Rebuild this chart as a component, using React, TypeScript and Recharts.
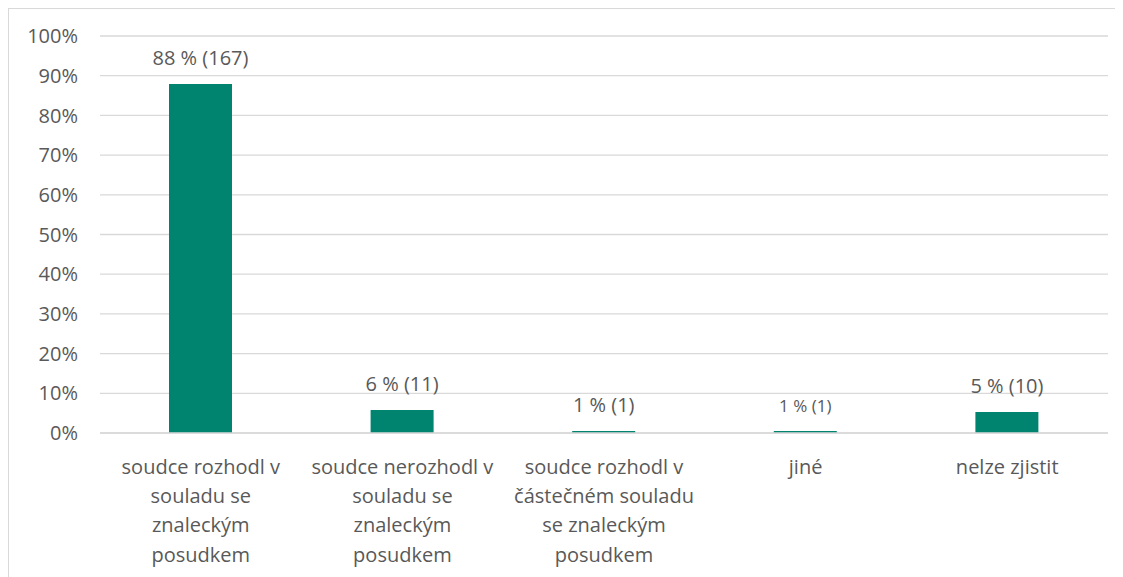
import React from "react";
import { BarChart, Bar, XAxis, YAxis, CartesianGrid, LabelList } from "recharts";

const categories = [
  "soudce rozhodl v souladu se znaleckým posudkem",
  "soudce nerozhodl v souladu se znaleckým posudkem",
  "soudce rozhodl v částečném souladu se znaleckým posudkem",
  "jiné",
  "nelze zjistit",
];
const categoryLines = [
  ["soudce rozhodl v", "souladu se", "znaleckým", "posudkem"],
  ["soudce nerozhodl v", "souladu se", "znaleckým", "posudkem"],
  ["soudce rozhodl v", "částečném souladu", "se znaleckým", "posudkem"],
  ["jiné"],
  ["nelze zjistit"],
];
const percentValues = [87.9, 5.8, 0.53, 0.53, 5.26];
const valueLabels = ["88 % (167)", "6 % (11)", "1 % (1)", "1 % (1)", "5 % (10)"];
const yTicks = [0, 10, 20, 30, 40, 50, 60, 70, 80, 90, 100];

const data = categories.map((c, i) => ({
  name: c,
  idx: i,
  value: percentValues[i],
  label: valueLabels[i],
}));

const FONT = "'Open Sans', Lato, sans-serif";
const TEXT = "#595959";

const CatTick = (props: any) => {
  const { x, y, payload } = props;
  const lines = categoryLines[payload.index] || [payload.value];
  return (
    <g>
      {lines.map((l: string, i: number) => (
        <text
          key={i}
          x={x}
          y={y + 33 + i * 29.2}
          textAnchor="middle"
          fill={TEXT}
          fontSize={20}
          fontFamily={FONT}
        >
          {l}
        </text>
      ))}
    </g>
  );
};

const ValLabel = (props: any) => {
  const { x, y, width, index } = props;
  return (
    <text
      x={x + width / 2}
      y={y - 19}
      textAnchor="middle"
      fill={TEXT}
      fontSize={index === 3 ? 17 : 20}
      fontFamily={FONT}
    >
      {valueLabels[index]}
    </text>
  );
};

export default function App() {
  return (
    <div
      style={{
        width: 1113,
        height: 575,
        border: "1px solid #d9d9d9",
        overflow: "hidden",
        background: "#fff",
      }}
    >
      <BarChart
        width={1113}
        height={568}
        data={data}
        margin={{ top: 27, right: 14, bottom: 0, left: 0 }}
        barCategoryGap={0}
      >
        <CartesianGrid vertical={false} stroke="#d9d9d9" strokeWidth={1.3} />
        <XAxis
          dataKey="name"
          tick={<CatTick />}
          tickLine={false}
          axisLine={{ stroke: "#d9d9d9", strokeWidth: 1.3 }}
          interval={0}
          height={144}
        />
        <YAxis
          width={91}
          domain={[0, 100]}
          ticks={yTicks}
          tickFormatter={(v: number) => `${v}%`}
          tickLine={false}
          axisLine={false}
          tickSize={0}
          tickMargin={22}
          tick={{ fill: TEXT, fontSize: 20, fontFamily: FONT }}
          interval={0}
        />
        <Bar dataKey="value" fill="#00846f" barSize={63} isAnimationActive={false}>
          <LabelList dataKey="label" content={<ValLabel />} />
        </Bar>
      </BarChart>
    </div>
  );
}
